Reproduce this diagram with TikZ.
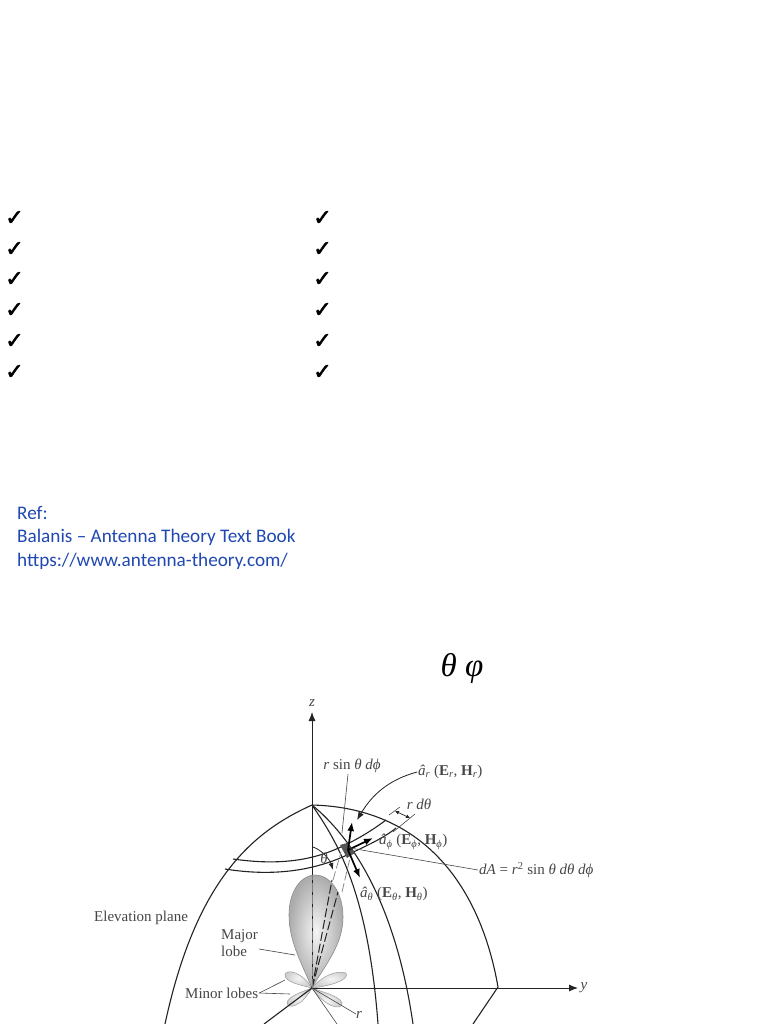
\documentclass[tikz,border=0pt]{standalone}
\usepackage{fontspec}
\setmainfont{Liberation Serif}
\newfontfamily\bodyfont{Carlito}
\newfontfamily\symfont[FakeBold=2.5]{DejaVu Sans}
\usetikzlibrary{arrows.meta}
\definecolor{refblue}{RGB}{32,72,178}
\definecolor{ink}{RGB}{35,35,35}
\definecolor{soft}{RGB}{70,70,70}
\newcommand{\sbi}[1]{\textsubscript{\textit{#1}}}
\tikzset{
  chk/.style={font=\symfont\bfseries\fontsize{22}{22}\selectfont,inner sep=0pt,text=black},
  reftext/.style={font=\bodyfont\fontsize{19.2}{19.2}\selectfont,text=refblue,inner sep=0pt,anchor=west},
  lbl/.style={font=\fontsize{15}{15}\selectfont,text=soft,inner sep=1pt},
  curve/.style={draw=ink,line width=1.1pt},
  thin leader/.style={draw=soft,line width=0.6pt},
  axis/.style={draw=ink,line width=0.9pt,-{Latex[length=9pt,width=7pt]}},
  vec/.style={draw=black,line width=1.7pt,-{Latex[length=9pt,width=7pt]}},
  dashline/.style={draw=ink,line width=1pt,dash pattern=on 9pt off 3pt},
  lobe/.style={draw=gray!90,line width=0.6pt,inner color=gray!8,outer color=gray!65},
  minor/.style={draw=gray!80,line width=0.5pt,inner color=gray!8,outer color=gray!40}
}
\begin{document}
\begin{tikzpicture}[x=1pt,y=-1pt]
\clip (0,0) rectangle (768,1024);
\fill[white] (0,0) rectangle (768,1024);
% check marks
\foreach \n/\yy in {1/218,2/249,3/279,4/310,5/341,6/372}{
  \node[chk] (cl\n) at (14.5,\yy) {✓};
  \node[chk] (cr\n) at (322.5,\yy) {✓};
}
% reference text
\node[reftext] (ref1) at (17,513) {Ref:};
\node[reftext] (ref2) at (17,537) {Balanis – Antenna Theory Text Book};
\node[reftext] (ref3) at (17,561) {https://www.antenna-theory.com/};
\node[inner sep=0pt,font=\fontsize{33}{33}\selectfont\itshape] (angles) at (462,668) {θ φ};
% coordinates
\coordinate (O) at (312,988);
\coordinate (peak) at (312,805);
\coordinate (ztip) at (312,712);
\coordinate (ytip) at (578,988);
\coordinate (yend) at (498,987);
\coordinate (patch) at (348,850);
% lobes
\shade[minor] (O) .. controls (300,985) and (285,982) .. (285,975) .. controls (286,968) and (302,972) .. (O);
\shade[minor] (O) .. controls (322,976) and (336,970) .. (346,973) .. controls (350,980) and (330,986) .. (O);
\shade[minor] (O) .. controls (302,992) and (288,996) .. (287,1003) .. controls (288,1010) and (302,1006) .. (O);
\shade[minor] (O) .. controls (322,992) and (340,996) .. (342,1003) .. controls (342,1012) and (324,1006) .. (O);
\shade[lobe] (O) .. controls (300,960) and (289,940) .. (289,915) .. controls (289,890) and (302,875) .. (315,875) .. controls (330,875) and (343,892) .. (343,917) .. controls (343,945) and (325,965) .. (O);
% axes
\draw[axis] (O) -- (ztip);
\draw[axis] (O) -- (ytip);
\draw[curve] (O) -- (264,1024);
\draw[thin leader] (O) -- (337,1024);
\draw[thin leader] (O) -- (356,1014);
% sphere outline
\draw[curve] (peak) .. controls (252,832) and (196,880) .. (165,1024);
\draw[curve] (peak) .. controls (430,808) and (482,895) .. (yend) -- (473,1024);
\draw[curve] (peak) .. controls (336,840) and (368,890) .. (378,1024);
\draw[curve] (peak) .. controls (350,836) and (395,900) .. (413,1024);
% band
\draw[curve] (233,859) .. controls (275,865) and (310,862) .. (343,846) .. controls (360,838) and (374,829) .. (386,820);
\draw[curve] (225,869) .. controls (275,877) and (315,870) .. (347,855) .. controls (366,846) and (384,838) .. (396,828);
% patch
\fill[gray!65!black] (340,845) -- (347,843) -- (355,853) -- (347,858) -- cycle;
% dashed to patch
\draw[dashline] (O) -- (332,880);
\draw[dashline] (O) -- (338,892);
\draw[dashline,draw=gray] (O) -- (312,875);
\draw[dashline,draw=gray,line width=0.7pt] (333,880) -- (341,852);
\draw[dashline,draw=gray,line width=0.7pt] (342,892) -- (350,858);
% vectors
\draw[vec] (patch) -- (352,822);
\draw[vec] (patch) -- (373,838);
\draw[vec] (patch) -- (360,878);
% theta arc
\draw[draw=ink,line width=0.8pt,-{Latex[length=7pt,width=5pt]}] (313,847) .. controls (322,850) and (330,860) .. (333,870);
% dim
\coordinate (t1a) at (389,815); \coordinate (t1b) at (400,807);
\coordinate (t2a) at (393,832); \coordinate (t2b) at (415,814);
\coordinate (d1) at (395,811); \coordinate (d2) at (410,818);
\draw[thin leader] (t1a) -- (t1b);
\draw[thin leader] (t2a) -- (t2b);
\draw[draw=ink,line width=0.7pt,{Latex[length=4pt,width=4pt]}-{Latex[length=4pt,width=4pt]}] (d1) -- (d2);
% labels
\node[lbl] (zlab) at (312,703) {\textit{z}};
\node[lbl] (ylab) at (584,988) {\textit{y}};
\node[lbl] (rlab) at (359,1015) {\textit{r}};
\node[lbl] (thlab) at (324,858) {\textit{θ}};
\node[lbl] (rs) at (352,766) {\textit{r} sin \textit{θ} \textit{dϕ}};
\node[lbl] (rd) at (419,804) {\textit{r} \textit{dθ}};
\node[lbl,anchor=west] (ar) at (417,772) {\textit{â}\sbi{r} (\textbf{E}\sbi{r}, \textbf{H}\sbi{r})};
\node[lbl,anchor=west] (aph) at (378,842) {\textit{â}\sbi{ϕ} (\textbf{E}\sbi{ϕ}, \textbf{H}\sbi{ϕ})};
\node[lbl,anchor=west] (ath) at (359,894) {\textit{â}\sbi{θ} (\textbf{E}\sbi{θ}, \textbf{H}\sbi{θ})};
\node[lbl,anchor=west] (da) at (478,870) {\textit{dA} = \textit{r}\textsuperscript{2} sin \textit{θ} \textit{dθ} \textit{dϕ}};
\node[lbl,anchor=west] (elev) at (93,918) {Elevation plane};
\node[lbl,anchor=west,align=left,font=\fontsize{15}{17}\selectfont] (major) at (220,943) {Major\\lobe};
\node[lbl,anchor=west] (minorlab) at (184,993) {Minor lobes};
% leaders
\draw[thin leader] (rs.south) ++(-4,0) -- (342,833);
\draw[thin leader] (da.west) -- (350,848);
\draw[thin leader] (major.east) ++(0,6) -- (295,955);
\draw[thin leader] (minorlab.east) -- (285,980);
\draw[thin leader] (minorlab.east) -- (290,994);
\draw[draw=ink,line width=0.8pt,-{Latex[length=8pt,width=6pt]}] (ar.west) .. controls (388,780) and (372,795) .. (357,820);
\end{tikzpicture}
\end{document}
